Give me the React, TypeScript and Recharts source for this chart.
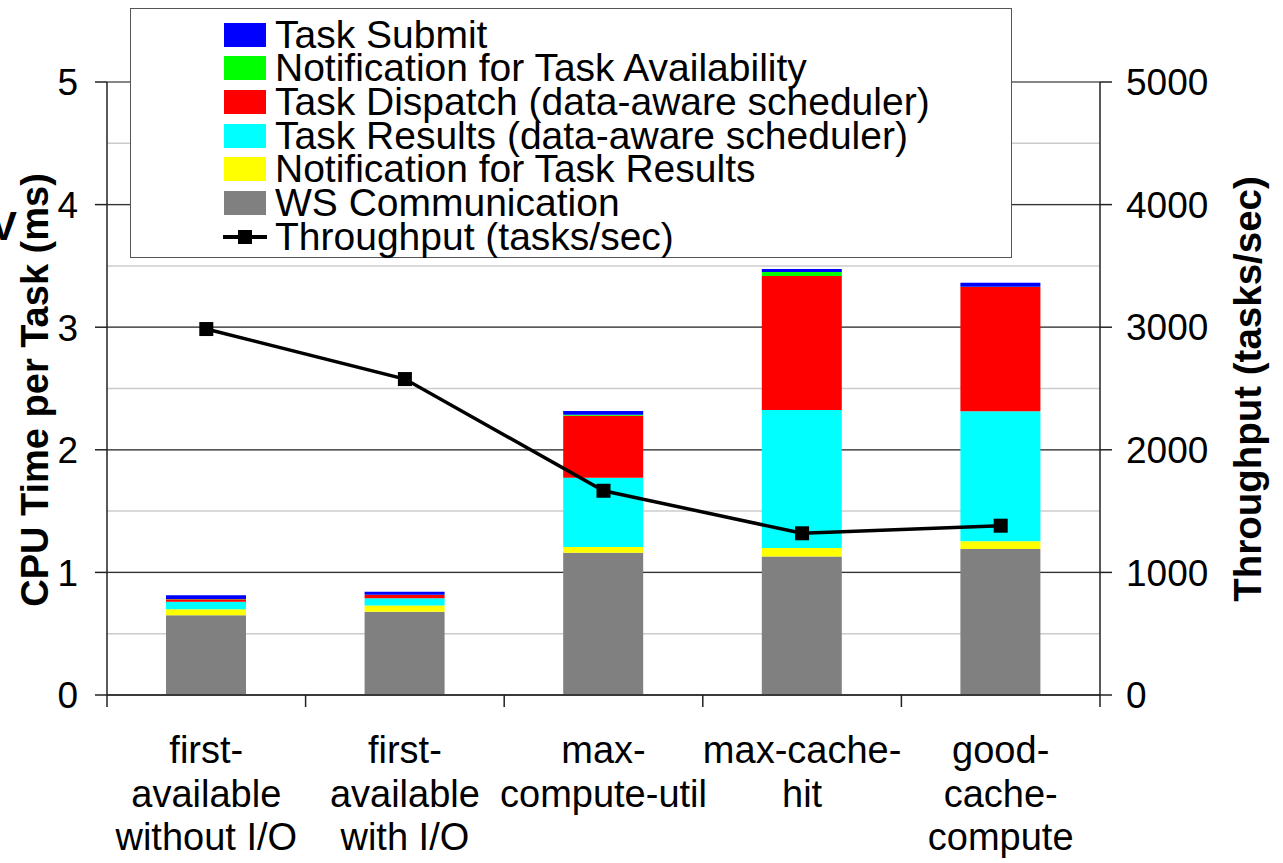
import React from "react";
import { ComposedChart, Bar, Line, XAxis, YAxis, CartesianGrid } from "recharts";

const categories = [
  ["first-", "available", "without I/O"],
  ["first-", "available", "with I/O"],
  ["max-", "compute-util"],
  ["max-cache-", "hit"],
  ["good-", "cache-", "compute"],
];

// stacked components, bottom to top (ms)
const wsCommunication = [0.65, 0.68, 1.16, 1.13, 1.19];
const notifyResults = [0.05, 0.05, 0.047, 0.07, 0.065];
const taskResults = [0.06, 0.06, 0.565, 1.125, 1.06];
const taskDispatch = [0.02, 0.025, 0.506, 1.093, 1.012];
const notifyAvailability = [0.003, 0.003, 0.008, 0.032, 0.003];
const taskSubmit = [0.03, 0.025, 0.03, 0.025, 0.032];
const throughput = [2985, 2577, 1666, 1319, 1381];

const leftTicks = [0, 0.5, 1, 1.5, 2, 2.5, 3, 3.5, 4, 4.5, 5];
const rightTicks = [0, 1000, 2000, 3000, 4000, 5000];

const FONT = '"Liberation Sans", Arial, Helvetica, sans-serif';

const data = categories.map((c, i) => ({
  name: c.join(" "),
  lines: c,
  ws: wsCommunication[i],
  nres: notifyResults[i],
  tres: taskResults[i],
  disp: taskDispatch[i],
  navail: notifyAvailability[i],
  submit: taskSubmit[i],
  throughput: throughput[i],
}));

const legendItems = [
  { label: "Task Submit", color: "#0000ff" },
  { label: "Notification for Task Availability", color: "#00ff00" },
  { label: "Task Dispatch (data-aware scheduler)", color: "#ff0000" },
  { label: "Task Results (data-aware scheduler)", color: "#00ffff" },
  { label: "Notification for Task Results", color: "#ffff00" },
  { label: "WS Communication", color: "#808080" },
  { label: "Throughput (tasks/sec)", color: "line" },
];

const LeftTick = (props: any) => {
  const { x, y, payload } = props;
  const v = payload.value;
  if (v % 1 !== 0) return null;
  return (
    <g>
      <line x1={x + 17} x2={x + 29} y1={y} y2={y} stroke="#222" strokeWidth={1.5} />
      <text x={x} y={y} dy="0.36em" textAnchor="end" fontSize={37} fontFamily={FONT} fill="#000">
        {v}
      </text>
    </g>
  );
};

const BottomTick = (props: any) => {
  const { x, y, payload, index } = props;
  const off = payload.offset ?? 99.3;
  const lines = data[index] ? data[index].lines : [payload.value];
  const base = [68, 112, 155];
  return (
    <g>
      <line x1={x - off} x2={x - off} y1={y} y2={y + 12} stroke="#222" strokeWidth={1.5} />
      {index === data.length - 1 && (
        <line x1={x + off} x2={x + off} y1={y} y2={y + 12} stroke="#222" strokeWidth={1.5} />
      )}
      {lines.map((t: string, i: number) => (
        <text key={i} x={x} y={y + base[i]} textAnchor="middle" fontSize={38} fontFamily={FONT} fill="#000">
          {t}
        </text>
      ))}
    </g>
  );
};

const SquareDot = (props: any) => {
  const { cx, cy } = props;
  if (cx == null || cy == null) return null;
  return <rect x={cx - 7} y={cy - 7} width={14} height={14} fill="#000" />;
};

export default function App() {
  return (
    <div style={{ position: "absolute", left: 0, top: 0, width: 1283, height: 863, background: "#fff", fontFamily: FONT }}>
      <ComposedChart width={1283} height={863} data={data} margin={{ top: 82, right: 0, bottom: 0, left: 0 }} barSize={80}>
        <CartesianGrid yAxisId="left" vertical={false} stroke="#cccccc" strokeWidth={1.5} />
        <CartesianGrid yAxisId="right" vertical={false} stroke="#333333" strokeWidth={1.2} />
        <XAxis
          dataKey="name"
          height={168}
          tickLine={false}
          tickSize={0}
          tickMargin={0}
          interval={0}
          axisLine={{ stroke: "#222", strokeWidth: 1.5 }}
          tick={<BottomTick />}
        />
        <YAxis
          yAxisId="left"
          width={107}
          domain={[0, 5]}
          ticks={leftTicks}
          interval={0}
          tickLine={false}
          tickSize={12}
          tickMargin={17}
          axisLine={{ stroke: "#222", strokeWidth: 1.5 }}
          tick={<LeftTick />}
        />
        <YAxis
          yAxisId="right"
          orientation="right"
          width={183}
          domain={[0, 5000]}
          ticks={rightTicks}
          interval={0}
          tickSize={12}
          tickMargin={14}
          tickLine={{ stroke: "#222", strokeWidth: 1.5 }}
          axisLine={{ stroke: "#222", strokeWidth: 1.5 }}
          tick={{ fontSize: 37, fontFamily: FONT, fill: "#000" }}
        />
        <Bar yAxisId="left" dataKey="ws" stackId="a" fill="#808080" isAnimationActive={false} />
        <Bar yAxisId="left" dataKey="nres" stackId="a" fill="#ffff00" isAnimationActive={false} />
        <Bar yAxisId="left" dataKey="tres" stackId="a" fill="#00ffff" isAnimationActive={false} />
        <Bar yAxisId="left" dataKey="disp" stackId="a" fill="#ff0000" isAnimationActive={false} />
        <Bar yAxisId="left" dataKey="navail" stackId="a" fill="#00ff00" isAnimationActive={false} />
        <Bar yAxisId="left" dataKey="submit" stackId="a" fill="#0000ff" isAnimationActive={false} />
        <Line
          yAxisId="right"
          type="linear"
          dataKey="throughput"
          stroke="#000"
          strokeWidth={3.5}
          dot={<SquareDot />}
          activeDot={false}
          isAnimationActive={false}
        />
      </ComposedChart>

      {/* axis titles */}
      <svg width={1283} height={863} style={{ position: "absolute", left: 0, top: 0, pointerEvents: "none" }}>
        <text x={17} y={240} textAnchor="end" fontSize={40} fontWeight="bold" fontFamily={FONT}>V</text>
        <text
          x={48}
          y={390}
          transform="rotate(-90 48 390)"
          textAnchor="middle"
          fontSize={38}
          fontWeight="bold"
          fontFamily={FONT}
        >
          CPU Time per Task (ms)
        </text>
        <text
          x={1261}
          y={389}
          transform="rotate(-90 1261 389)"
          textAnchor="middle"
          fontSize={38.5}
          fontWeight="bold"
          fontFamily={FONT}
        >
          Throughput (tasks/sec)
        </text>
      </svg>

      {/* legend */}
      <div
        style={{
          position: "absolute",
          left: 130,
          top: 8,
          width: 882,
          height: 250,
          boxSizing: "border-box",
          border: "1.5px solid #555",
          background: "#fff",
        }}
      >
        {legendItems.map((it, i) => (
          <div
            key={it.label}
            style={{
              position: "absolute",
              left: 0,
              top: 25.5 + 33.7 * i - 17,
              height: 34,
              width: 870,
              display: "flex",
              alignItems: "center",
            }}
          >
            {it.color === "line" ? (
              <svg width={44} height={24} style={{ position: "absolute", left: 92 }}>
                <line x1={0} x2={44} y1={12} y2={12} stroke="#000" strokeWidth={4} />
                <rect x={15} y={5} width={14} height={14} fill="#000" />
              </svg>
            ) : (
              <div style={{ position: "absolute", left: 92.5, width: 42, height: 24, background: it.color }} />
            )}
            <span
              style={{
                position: "absolute",
                left: 144,
                fontSize: 39,
                lineHeight: "34px",
                whiteSpace: "nowrap",
                color: "#000",
              }}
            >
              {it.label}
            </span>
          </div>
        ))}
      </div>
    </div>
  );
}
